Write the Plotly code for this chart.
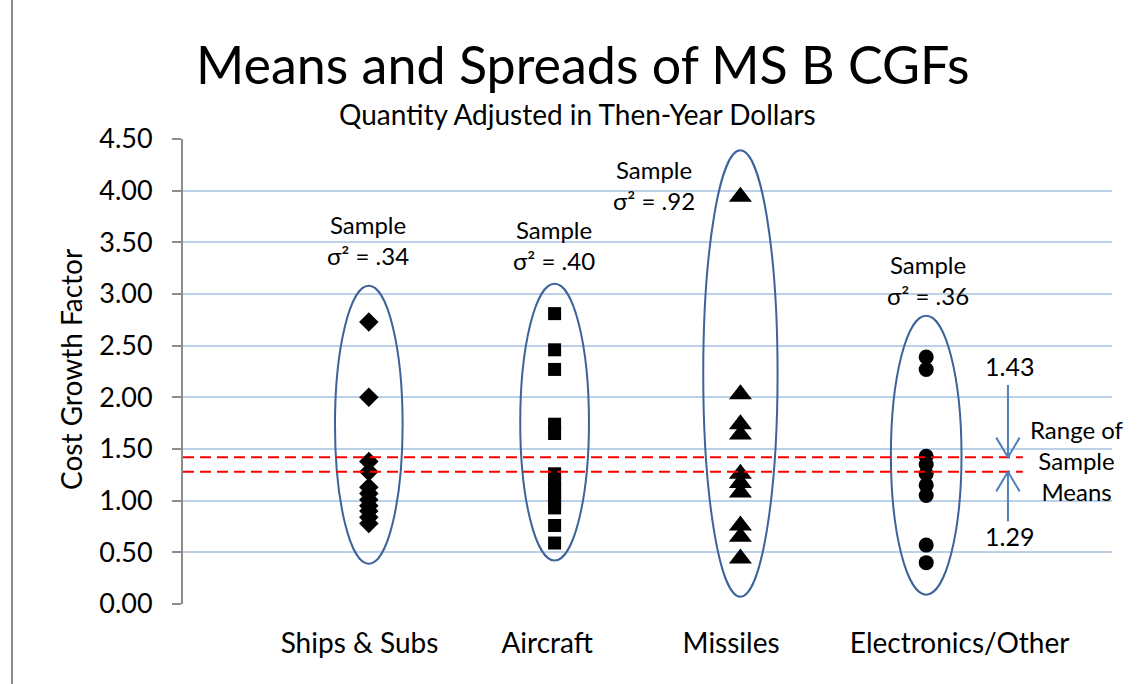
import plotly.graph_objects as go

# ---------------- data ----------------
categories = ["Ships & Subs", "Aircraft", "Missiles", "Electronics/Other"]
cat_pos = [1, 2, 3, 4]
cat_label_pos = [0.95, 1.96, 2.95, 4.18]

ships_cgf = [2.73, 2.00, 1.38, 1.28, 1.13, 1.07, 1.01, 0.95, 0.90, 0.84, 0.78]
aircraft_cgf = [2.81, 2.46, 2.27, 1.74, 1.65, 1.26, 1.19, 1.12, 1.06, 0.99, 0.93, 0.76, 0.59]
missiles_cgf = [3.94, 2.03, 1.74, 1.64, 1.26, 1.17, 1.08, 0.76, 0.65, 0.44]
electronics_cgf = [2.39, 2.27, 1.43, 1.35, 1.26, 1.15, 1.05, 0.57, 0.40]

variance_labels = ["σ² = .34", "σ² = .40", "σ² = .92", "σ² = .36"]

ellipse_top = [3.08, 3.10, 4.39, 2.79]
ellipse_bottom = [0.39, 0.42, 0.07, 0.09]

mean_high_label = "1.43"
mean_low_label = "1.29"
mean_high_line = 1.42
mean_low_line = 1.28

y_ticks = [0, 0.5, 1, 1.5, 2, 2.5, 3, 3.5, 4, 4.5]

# ---------------- layout geometry ----------------
W, H = 1138, 684
L, R, T, B = 183, 26, 139, 80
PW, PH = W - L - R, H - T - B
FONT = "Lato, 'Open Sans', Arial, sans-serif"


def px(xp, yp):
    return (xp - L) / PW, (H - B - yp) / PH


fig = go.Figure()

series = [
    (ships_cgf, "diamond", 15),
    (aircraft_cgf, "square", 13),
    (missiles_cgf, "triangle-up", 20),
    (electronics_cgf, "circle", 15),
]
for i, (vals, sym, sz) in enumerate(series):
    fig.add_trace(go.Scatter(
        x=[cat_pos[i]] * len(vals), y=vals, mode="markers",
        marker=dict(symbol=sym, size=sz, color="black", line=dict(width=0)),
        showlegend=False, hoverinfo="y"))

shapes = []
half_w = [0.182, 0.185, 0.2, 0.19]
for i in range(4):
    shapes.append(dict(type="circle", xref="x", yref="y",
                       x0=cat_pos[i] - half_w[i], x1=cat_pos[i] + half_w[i],
                       y0=ellipse_bottom[i], y1=ellipse_top[i],
                       line=dict(color="#3D6399", width=2), layer="above"))

# red dashed mean range lines
red_end = 4.52
for yv in (mean_high_line, mean_low_line):
    shapes.append(dict(type="line", xref="x", yref="y", x0=0, x1=red_end,
                       y0=yv, y1=yv,
                       line=dict(color="#FF0000", width=2.2, dash="11px,6px"),
                       layer="above"))

# arrows to the range lines
arrow_x = 4.44
ax_c = "#4F81BD"
arm_dx, arm_dy = 0.063, 0.19
shapes.append(dict(type="line", xref="x", yref="y", x0=arrow_x, x1=arrow_x,
                   y0=mean_high_line + 0.70, y1=mean_high_line,
                   line=dict(color=ax_c, width=2)))
shapes.append(dict(type="path", xref="x", yref="y",
                   path=f"M {arrow_x - arm_dx} {mean_high_line + arm_dy} L {arrow_x} {mean_high_line} L {arrow_x + arm_dx} {mean_high_line + arm_dy}",
                   line=dict(color=ax_c, width=2)))
shapes.append(dict(type="line", xref="x", yref="y", x0=arrow_x, x1=arrow_x,
                   y0=mean_low_line, y1=mean_low_line - 0.48,
                   line=dict(color=ax_c, width=2)))
shapes.append(dict(type="path", xref="x", yref="y",
                   path=f"M {arrow_x - arm_dx} {mean_low_line - arm_dy} L {arrow_x} {mean_low_line} L {arrow_x + arm_dx} {mean_low_line - arm_dy}",
                   line=dict(color=ax_c, width=2)))

# left frame line
fx, _ = px(12, 0)
shapes.append(dict(type="line", xref="paper", yref="paper", x0=fx, x1=fx,
                   y0=(0 - B) / PH - 0.01, y1=(H - B) / PH + 0.01,
                   line=dict(color="#8C8C8C", width=2)))

annotations = []


def add_text(text, xp, yp, size, xanchor="center"):
    x, y = px(xp, yp)
    annotations.append(dict(text=text, x=x, y=y, xref="paper", yref="paper",
                            showarrow=False, xanchor=xanchor, yanchor="middle",
                            font=dict(family=FONT, size=size, color="black")))


add_text("Means and Spreads of MS B CGFs", 583, 64, 52)
add_text("Quantity Adjusted in Then-Year Dollars", 577, 114, 28)

sample_pos = [(368, 240), (554, 244.5), (654, 184.5), (928, 279.5)]
for (xp, yp), lab in zip(sample_pos, variance_labels):
    add_text("Sample<br>" + lab, xp, yp, 24)

add_text(mean_high_label, 1009, 366, 25)
add_text(mean_low_label, 1009, 536, 25)
add_text("Range of<br>Sample<br>Means", 1077, 460, 24)

ttx, tty = px(71, 370)
annotations.append(dict(text="Cost Growth Factor", x=ttx, y=tty, xref="paper",
                        yref="paper", showarrow=False, textangle=-90,
                        xanchor="center", yanchor="middle",
                        font=dict(family=FONT, size=28, color="black")))

fig.update_layout(
    width=W, height=H,
    margin=dict(l=L, r=R, t=T, b=B, autoexpand=False),
    paper_bgcolor="white", plot_bgcolor="white",
    shapes=shapes, annotations=annotations,
    xaxis=dict(range=[0, 5], tickmode="array", tickvals=cat_label_pos,
               ticktext=categories, showgrid=False, zeroline=False,
               showline=False, ticks="", ticklabelstandoff=20,
               tickfont=dict(family=FONT, size=28, color="black"),
               fixedrange=True),
    yaxis=dict(range=[0, 4.5], tickmode="array", tickvals=y_ticks,
               tickformat=".2f", showgrid=True, gridcolor="#BCD0E8",
               gridwidth=2, zeroline=False, showline=True,
               linecolor="#8C8C8C", linewidth=2, ticks="outside",
               ticklen=9, tickwidth=2, tickcolor="#8C8C8C",
               ticklabelstandoff=14,
               tickfont=dict(family=FONT, size=27, color="black"),
               fixedrange=True),
)

fig.write_html("out.html", config={"displayModeBar": False},
               post_script="document.body.style.margin='0';document.body.style.padding='0';")
